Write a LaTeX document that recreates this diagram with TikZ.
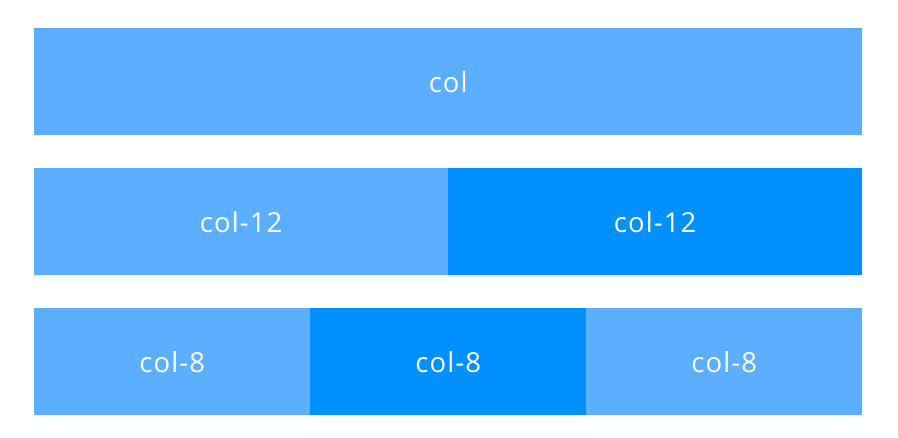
\documentclass[tikz,border=0pt]{standalone}
\usepackage{fontspec}
\setmainfont{Open Sans}[LetterSpace=4]
\definecolor{lightb}{HTML}{5CAEFF}
\definecolor{darkb}{HTML}{0090FF}
\tikzset{
  cell/.style={anchor=north west, inner sep=0pt, minimum height=107pt, text=white, font=\fontsize{27.5}{30}\selectfont},
  lt/.style={cell, fill=lightb},
  dk/.style={cell, fill=darkb}
}
\begin{document}
\begin{tikzpicture}[x=1pt,y=-1pt]
\useasboundingbox[fill=white] (0,0) rectangle (898,438);
\node[lt, minimum width=828pt] (r1) at (34,28) {col};
\node[lt, minimum width=414pt] (r2a) at (34,168) {col-12};
\node[dk, minimum width=414pt] (r2b) at (448,168) {col-12};
\node[lt, minimum width=276pt] (r3a) at (34,308) {col-8};
\node[dk, minimum width=276pt] (r3b) at (310,308) {col-8};
\node[lt, minimum width=276pt] (r3c) at (586,308) {col-8};
\end{tikzpicture}
\end{document}
